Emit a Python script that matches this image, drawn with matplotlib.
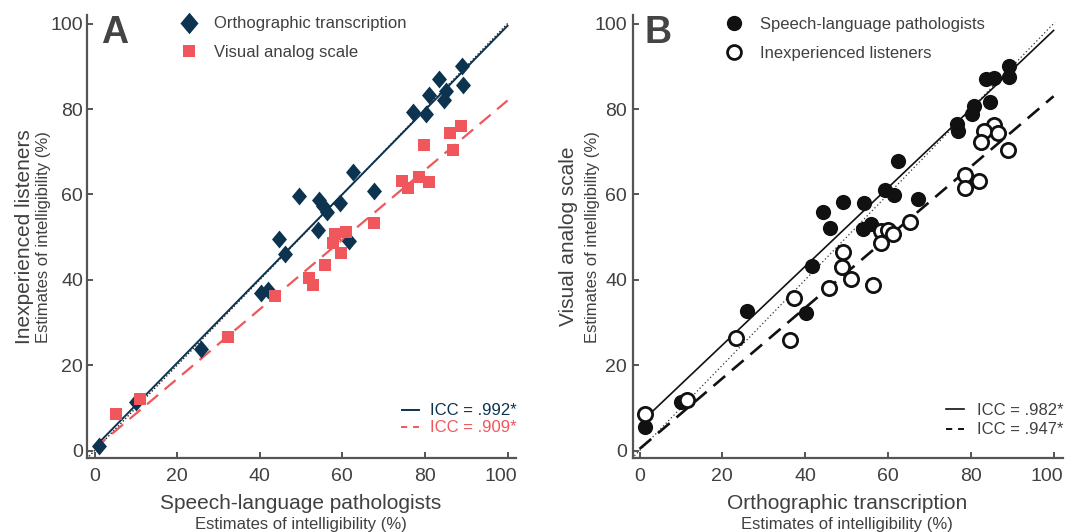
import matplotlib
matplotlib.use("Agg")
import matplotlib.pyplot as plt
import matplotlib.transforms as mtransforms
from matplotlib.lines import Line2D

plt.rcParams['font.family'] = ['Liberation Sans', 'DejaVu Sans']

# ---------------- data ----------------
# Panel A: Orthographic transcription (SLP vs inexperienced listeners)
a_ot_x = [89.0, 89.2, 83.5, 85.1, 84.7, 81.0, 80.2, 77.1,
          62.7, 67.6, 49.6, 54.4, 55.4, 56.2, 59.4, 54.2, 61.5, 44.6, 46.1,
          1.0, 10.1, 25.9, 40.4, 41.9]
a_ot_y = [90.0, 85.7, 87.1, 84.3, 82.0, 83.2, 78.9, 79.3,
          65.2, 60.8, 59.7, 58.6, 57.3, 56.0, 58.1, 51.6, 49.2, 49.5, 46.1,
          1.0, 11.4, 23.8, 36.9, 37.6]
# Panel A: Visual analog scale
a_vas_x = [88.8, 86.1, 86.7, 79.8, 81.1, 78.5, 74.4, 75.8, 67.6, 58.2,
           60.8, 57.8, 59.6, 55.7, 51.9, 52.9, 43.6, 32.3, 11.1, 5.2]
a_vas_y = [76.1, 74.4, 70.4, 71.6, 62.8, 64.1, 63.2, 61.4, 53.2, 50.7,
           51.2, 48.7, 46.2, 43.4, 40.5, 38.9, 36.2, 26.5, 12.2, 8.6]
# Panel A regression lines
a_fit_x = [0, 100]
a_ot_fit_y = [0.8, 99.5]
a_vas_fit_y = [0.5, 82.0]
identity = [-2.5, 100.3]

# Panel B: Speech-language pathologists (OT vs VAS)
b_slp_x = [89.3, 89.3, 83.6, 85.6, 84.6, 80.7, 80.3, 76.6, 77.0,
           62.4, 59.3, 61.4, 67.3, 54.3, 49.2, 44.3, 46.0, 56.0, 54.0,
           41.7, 25.9, 40.2, 10.1, 1.4]
b_slp_y = [90.0, 87.4, 87.0, 87.2, 81.7, 80.8, 78.8, 76.4, 74.9,
           67.8, 61.1, 59.8, 59.0, 58.0, 58.2, 56.0, 52.1, 53.0, 51.9,
           43.3, 32.6, 32.2, 11.3, 5.5]
# Panel B: Inexperienced listeners
b_il_x = [85.6, 83.2, 86.5, 82.5, 88.9, 78.6, 78.6, 81.9, 65.3, 58.3,
          60.0, 61.2, 58.4, 49.1, 48.9, 51.1, 45.7, 56.5, 37.2, 23.3,
          36.4, 11.4, 1.2]
b_il_y = [76.2, 74.9, 74.3, 72.3, 70.5, 64.6, 61.5, 63.2, 53.5, 51.5,
          51.6, 50.8, 48.6, 46.6, 42.9, 40.1, 38.2, 38.7, 35.7, 26.3,
          26.0, 11.9, 8.6]
b_slp_fit_x = [1.4, 100]
b_slp_fit_y = [7.6, 98.4]
b_il_fit_x = [0, 100]
b_il_fit_y = [0.4, 83.0]

ticks = [0, 20, 40, 60, 80, 100]

# ---------------- style ----------------
NAVY = '#0c3350'
RED = '#f0575c'
TXT = '#404040'
SPINE = '#555555'
W, H = 1068, 532

def fx(px):
    return px / W

def fy(py):
    return 1 - py / H

fig = plt.figure(figsize=(W / 100, H / 100), dpi=100)

def make_axes(left_px, right_px, top_px, bottom_px, xlim, ylim, ypad):
    ax = fig.add_axes([fx(left_px), fy(bottom_px),
                       (right_px - left_px) / W, (bottom_px - top_px) / H])
    ax.set_xlim(*xlim)
    ax.set_ylim(*ylim)
    for s in ['top', 'right']:
        ax.spines[s].set_visible(False)
    for s in ['left', 'bottom']:
        ax.spines[s].set_color(SPINE)
        ax.spines[s].set_linewidth(1.6)
    ax.set_xticks(ticks)
    ax.set_yticks(ticks)
    ax.tick_params(direction='in', length=4, width=1.4, color=SPINE,
                   labelsize=14, labelcolor=TXT)
    ax.tick_params(axis='x', pad=7)
    ax.tick_params(axis='y', pad=ypad)
    # the last x tick label sits slightly left of its tick in the original
    last = ax.xaxis.get_major_ticks()[-1].label1
    last.set_transform(last.get_transform() +
                       mtransforms.ScaledTranslation(-0.07, 0, fig.dpi_scale_trans))
    return ax

# Panel A
axA = make_axes(87.1, 516.2, 15.1, 458.3, (-1.8, 102.1), (-1.8, 102.0), 2.8)
axA.plot(identity, identity, ls=(0, (1, 1.5)), color='#222222', lw=1.0, zorder=1)
axA.plot(a_fit_x, a_ot_fit_y, color=NAVY, lw=1.4, zorder=2)
axA.plot(a_fit_x, a_vas_fit_y, color=RED, lw=1.6, dashes=(6.5, 3.8), zorder=2)
diamond = [(0, 1), (0.84, 0), (0, -1), (-0.84, 0), (0, 1)]
axA.scatter(a_ot_x, a_ot_y, marker=diamond, s=165, color=NAVY, lw=0, zorder=3)
axA.scatter(a_vas_x, a_vas_y, marker='s', s=64, color=RED, lw=0, zorder=4)

# Panel B
axB = make_axes(632.5, 1062.7, 15.1, 458.3, (-1.7, 102.2), (-1.8, 102.0), 4.0)
axB.plot(identity, identity, ls=(0, (1, 2)), color='#333333', lw=0.9, zorder=1)
axB.plot(b_slp_fit_x, b_slp_fit_y, color='#111111', lw=1.2, zorder=2)
axB.plot(b_il_fit_x, b_il_fit_y, color='#111111', lw=1.9, dashes=(5.8, 3.4), zorder=2)
axB.scatter(b_slp_x, b_slp_y, marker='o', s=120, color='#111111', lw=0, zorder=3)
axB.scatter(b_il_x, b_il_y, marker='o', s=105, facecolor='white',
            edgecolor='#111111', lw=2.0, zorder=4)

# ---------------- labels ----------------
def ylabels(x_main, x_sub, main):
    yc = fy(236.7)
    fig.text(fx(x_main), yc, main, rotation=90, fontsize=15, color=TXT,
             ha='center', va='center')
    fig.text(fx(x_sub), yc, 'Estimates of intelligibility (%)', rotation=90,
             fontsize=12, color=TXT, ha='center', va='center')

def xlabels(xc, main):
    fig.text(fx(xc), fy(508.7), main, fontsize=15, color=TXT,
             ha='center', va='baseline')
    fig.text(fx(xc), fy(529.3), 'Estimates of intelligibility (%)',
             fontsize=12, color=TXT, ha='center', va='baseline')

ylabels(24.7, 43.4, 'Inexperienced listeners')
ylabels(569, 592, 'Visual analog scale')
xlabels(301, 'Speech-language pathologists')
xlabels(847, 'Orthographic transcription')

fig.text(fx(101.5), fy(43), 'A', fontsize=27, fontweight='bold', color='#444444',
         ha='left', va='baseline')
fig.text(fx(644.7), fy(43), 'B', fontsize=27, fontweight='bold', color='#444444',
         ha='left', va='baseline')

# ---------------- legends ----------------
def add_marker(px, py, **kw):
    fig.add_artist(Line2D([fx(px)], [fy(py)], transform=fig.transFigure,
                          ls='none', **kw))

add_marker(189, 23, marker=diamond, markersize=15.5, color=NAVY, markeredgewidth=0)
add_marker(189, 51, marker='s', markersize=8, color=RED, markeredgewidth=0)
fig.text(fx(214.5), fy(28.3), 'Orthographic transcription', fontsize=12,
         color=TXT, va='baseline')
fig.text(fx(214.5), fy(56.7), 'Visual analog scale', fontsize=12,
         color=TXT, va='baseline')

add_marker(734, 23, marker='o', markersize=11, color='#111111', markeredgewidth=0)
add_marker(734, 51.7, marker='o', markersize=10, markerfacecolor='white',
           markeredgecolor='#111111', markeredgewidth=2.0)
fig.text(fx(760.4), fy(29.3), 'Speech-language pathologists', fontsize=12,
         color=TXT, va='baseline')
fig.text(fx(760.4), fy(58.3), 'Inexperienced listeners', fontsize=12,
         color=TXT, va='baseline')

def add_seg(x0, x1, py, color, lw, dashes=None):
    ln = Line2D([fx(x0), fx(x1)], [fy(py), fy(py)], transform=fig.transFigure,
                color=color, lw=lw)
    if dashes:
        ln.set_dashes(dashes)
    fig.add_artist(ln)

add_seg(401.7, 419.3, 410, NAVY, 1.4)
add_seg(400.7, 419.3, 427.3, RED, 1.4, dashes=(3.2, 3.0))
fig.text(fx(516.5), fy(415), 'ICC = .992*', fontsize=12, color=NAVY,
         ha='right', va='baseline')
fig.text(fx(516.5), fy(432.3), 'ICC = .909*', fontsize=12, color=RED,
         ha='right', va='baseline')

add_seg(946, 963.7, 408.7, '#111111', 1.2)
add_seg(946, 963.7, 429.3, '#111111', 1.4, dashes=(3.2, 3.0))
fig.text(fx(1063.5), fy(415.3), 'ICC = .982*', fontsize=12, color=TXT,
         ha='right', va='baseline')
fig.text(fx(1063.5), fy(434.3), 'ICC = .947*', fontsize=12, color=TXT,
         ha='right', va='baseline')

fig.savefig('out.png', dpi=100)
